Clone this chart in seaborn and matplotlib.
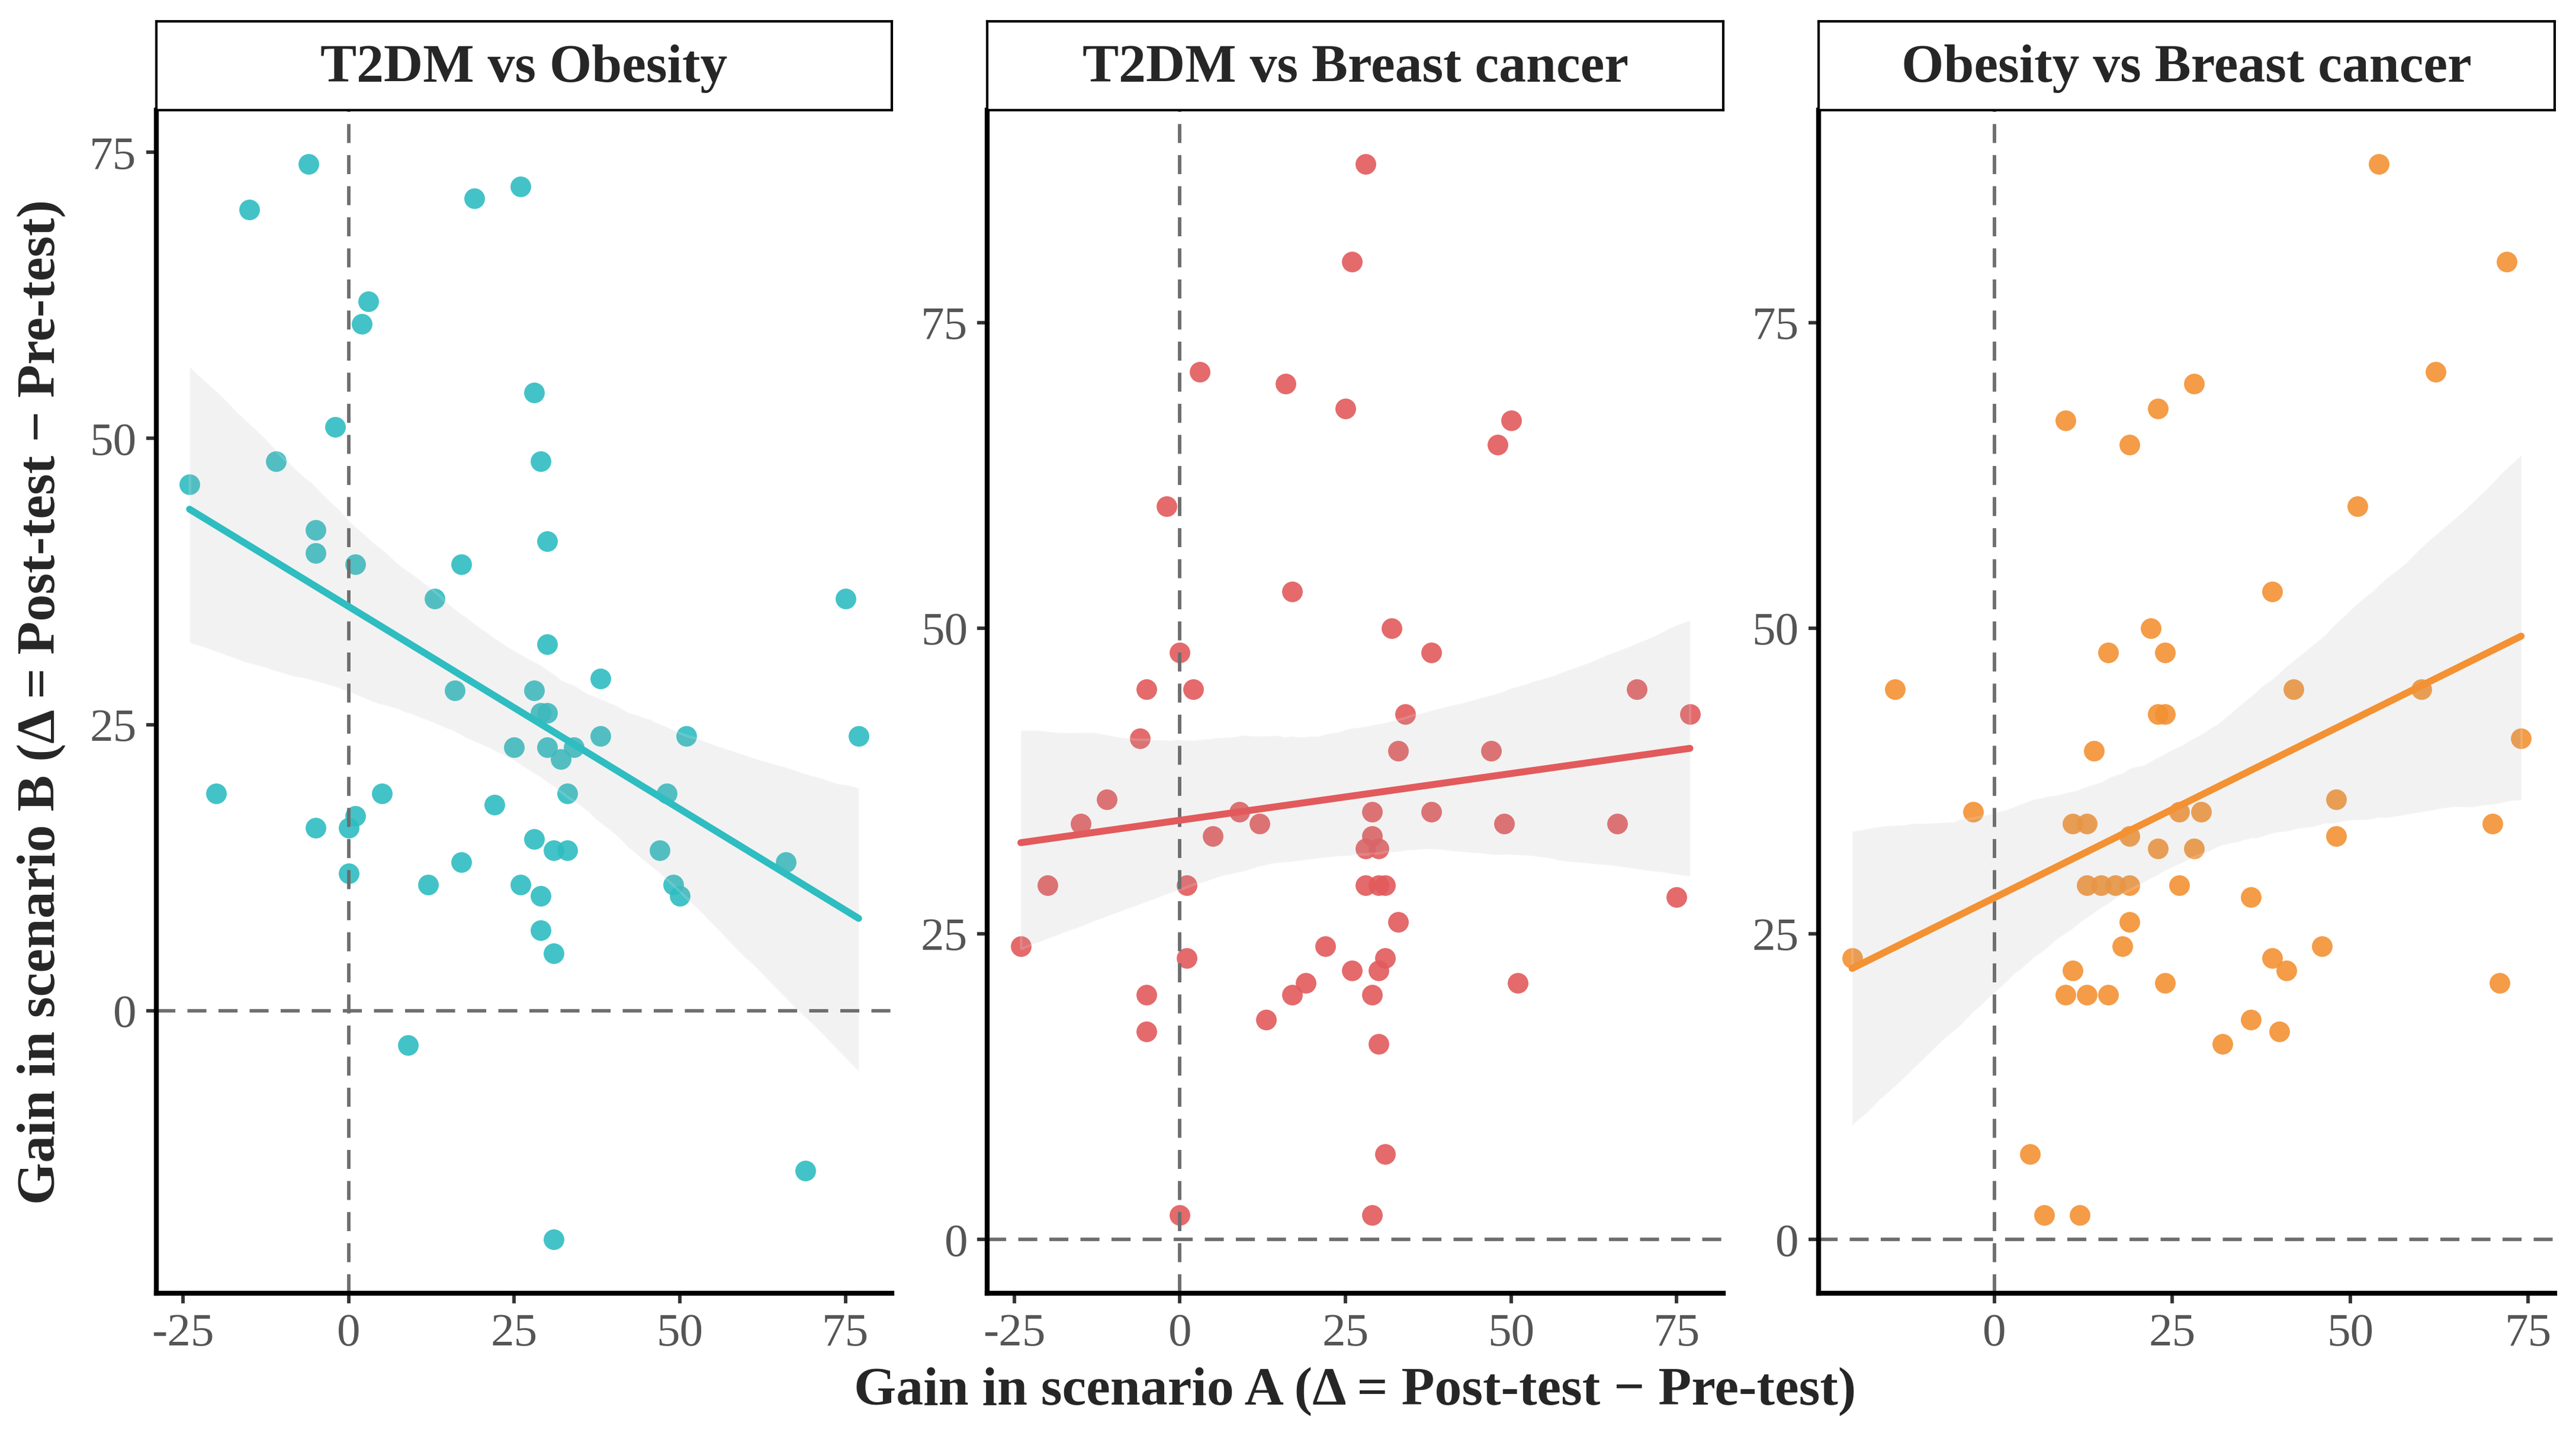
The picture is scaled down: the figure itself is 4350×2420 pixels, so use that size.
import numpy as np
import pandas as pd
import matplotlib
matplotlib.use("Agg")
import matplotlib.pyplot as plt
from matplotlib.ticker import MultipleLocator
import seaborn as sns

# facet titles and colours
panels = ["T2DM vs Obesity", "T2DM vs Breast cancer", "Obesity vs Breast cancer"]
colors = ["#2EBDC1", "#E25A5C", "#F39133"]

# gains: A = scenario A gain, B = scenario B gain
gain_a_t2dm_obesity = [-24, -15, -6, -11, -5, -5, -2, 1, 2, 3, 19, 26, 28, 29, 30, 13, 17, 30, 38, 16,
                       28, 29, 30, 38, 51, 77, 75, 25, 30, 34, 32, 33, -20, 5, 22, 0, -5, 1, 48, 47,
                       28, 31, 33, 17, 66, 0, 12, 26, 49, 50, 29, 29, 31, 9, 69, 31]
gain_b_t2dm_obesity = [46, 70, 74, 48, 42, 40, 51, 39, 60, 62, 71, 72, 54, 48, 41, 36, 39, 32, 29, 28,
                       28, 26, 26, 24, 24, 24, 36, 23, 23, 23, 22, 19, 19, 19, 18, 16, 16, 17, 19, 14,
                       15, 14, 14, 13, 13, 12, 11, 11, 11, 10, 10, 7, 5, -3, -14, -20]

gain_a_t2dm_breast = [28, 26, 3, 16, 25, 50, 48, -2, 17, 32, 0, 38, -5, 2, 69, 34, 77, -6, 33, 47,
                      -11, -15, 9, 12, 29, 38, 49, 66, 5, 29, 28, 30, -20, 1, 28, 30, 31, 75, 33, -24,
                      22, 1, 31, 26, 30, 19, 51, -5, 17, 29, 13, -5, 30, 31, 0, 29]
gain_b_t2dm_breast = [88, 80, 71, 70, 68, 67, 65, 60, 53, 50, 48, 48, 45, 45, 45, 43, 43, 41, 40, 40,
                      36, 34, 35, 34, 35, 35, 34, 34, 33, 33, 32, 32, 29, 29, 29, 29, 29, 28, 26, 24,
                      24, 23, 23, 22, 22, 21, 21, 20, 20, 20, 18, 17, 16, 7, 2, 2]

gain_a_obesity_breast = [54, 72, 62, 28, 23, 10, 19, 51, 39, 22, 16, 24, -14, 42, 60, 23, 24, 74, 14, 48,
                         -3, 11, 13, 70, 19, 48, 26, 29, 23, 28, 13, 15, 17, 19, 26, 36, 19, 18, 46, -20,
                         39, 11, 41, 24, 71, 10, 13, 16, 36, 40, 32, 5, 7, 12]
gain_b_obesity_breast = [88, 80, 71, 70, 68, 67, 65, 60, 53, 50, 48, 48, 45, 45, 45, 43, 43, 41, 40, 36,
                         35, 34, 34, 34, 33, 33, 35, 35, 32, 32, 29, 29, 29, 29, 29, 28, 26, 24, 24, 23,
                         23, 22, 22, 21, 21, 20, 20, 20, 18, 17, 16, 7, 2, 2]

gains_a = [gain_a_t2dm_obesity, gain_a_t2dm_breast, gain_a_obesity_breast]
gains_b = [gain_b_t2dm_obesity, gain_b_t2dm_breast, gain_b_obesity_breast]

sns.set_theme(style="ticks")
plt.rcParams["font.family"] = ["Liberation Serif", "DejaVu Serif"]
plt.rcParams["axes.unicode_minus"] = False

fig = plt.figure(figsize=(14.5, 2420 / 300), dpi=300)

lefts = [0.0606, 0.3833, 0.706]
width = 0.2857
bottom, height = 0.0975, 0.8257


def padded(vals):
    lo, hi = min(min(vals), 0), max(vals)
    p = 0.05 * (hi - lo)
    return lo - p, hi + p


for i, (title, ga, gb, col) in enumerate(zip(panels, gains_a, gains_b, colors)):
    df = pd.DataFrame({"gain_a": ga, "gain_b": gb})
    ax = fig.add_axes([lefts[i], bottom, width, height])

    ax.axhline(0, color="#6e6e6e", lw=1.4, dashes=(5.5, 3.5), zorder=2)
    ax.axvline(0, color="#6e6e6e", lw=1.4, dashes=(5.5, 3.5), zorder=2)

    # points, then grey confidence band, then fitted line
    sns.regplot(data=df, x="gain_a", y="gain_b", fit_reg=False, ax=ax, color=col,
                scatter_kws=dict(s=70, alpha=0.9, linewidths=0))
    sns.regplot(data=df, x="gain_a", y="gain_b", scatter=False, ax=ax, color="#a8a8a8",
                ci=95, seed=3, line_kws=dict(lw=0))
    sns.regplot(data=df, x="gain_a", y="gain_b", scatter=False, ax=ax, color=col,
                ci=None, line_kws=dict(lw=2.8))

    ax.set_xlim(*padded(ga))
    ax.set_ylim(*padded(gb))
    ax.xaxis.set_major_locator(MultipleLocator(25))
    ax.yaxis.set_major_locator(MultipleLocator(25))
    ax.set(xlabel="", ylabel="")
    sns.despine(ax=ax)
    for s in ["left", "bottom"]:
        ax.spines[s].set_linewidth(2.0)
        ax.spines[s].set_color("black")
    ax.tick_params(length=4, width=1.4, color="#333333", labelsize=19,
                   labelcolor="#555555", pad=4)

    # facet strip
    sax = fig.add_axes([lefts[i], 0.923, width, 0.062])
    sax.set_xticks([])
    sax.set_yticks([])
    for s in sax.spines.values():
        s.set_visible(True)
        s.set_linewidth(1.0)
        s.set_color("black")
    sax.text(0.5, 0.47, title, ha="center", va="center", fontsize=22,
             fontweight="bold", transform=sax.transAxes)

fig.text(0.526, 0.029, "Gain in scenario A (Δ = Post-test − Pre-test)",
         ha="center", va="center", fontsize=22, fontweight="bold")
fig.text(0.016, 0.510, "Gain in scenario B (Δ = Post-test − Pre-test)",
         ha="center", va="center", rotation=90, fontsize=22, fontweight="bold")

fig.savefig("out.png", dpi=300, facecolor="white")
